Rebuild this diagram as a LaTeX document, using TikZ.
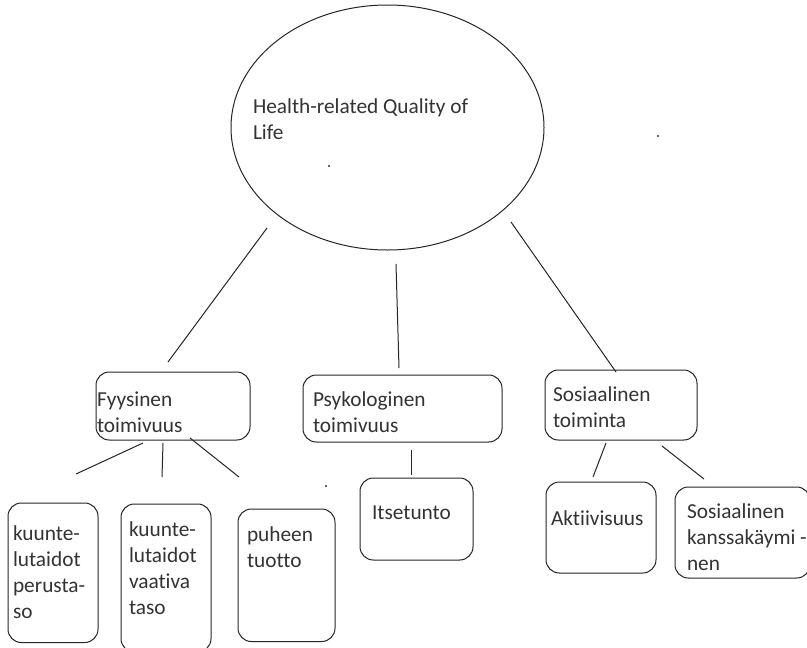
\documentclass[tikz,border=0pt]{standalone}
\usepackage{fontspec}
\setmainfont{Carlito}[Ligatures={NoCommon,NoRare,NoContextual}]
\begin{document}
\begin{tikzpicture}[x=0.75pt,y=-0.75pt,
  every node/.style={inner sep=0pt, outer sep=0pt},
  ln/.style={draw=black!85, line width=0.75pt},
  boxshape/.style={rectangle, rounded corners=10pt, draw=black!85, line width=0.75pt},
  lbl/.style={anchor=north west, align=left, text=black!80,
    font=\fontsize{16}{19.5}\selectfont},
  dotmark/.style={fill=black!60, inner sep=0pt, minimum size=1.2pt}]
\useasboundingbox (0,0) rectangle (807,647);
\fill[white] (0,0) rectangle (807,647);
\newcommand{\lblbox}[4]{% name, x, baseline y, text
  \node[lbl] (#1) at (#2,#3-18.2) {\strut #4};}
% main ellipse
\draw[ln] (387.5,127.5) ellipse [x radius=156.5, y radius=122.5];
\node[inner sep=0pt] (hq) at (387.5,127.5) {};
\lblbox{hqt}{253}{113}{Health-related Quality of\\\strut Life}
% second level boxes
\draw[boxshape] (96,372) rectangle (250,440);
\node (fy) at (173,406) {};
\lblbox{fyt}{97}{406.7}{Fyysinen\\\strut toimivuus}
\draw[boxshape] (303,375) rectangle (502,442);
\node (ps) at (402.5,408.5) {};
\lblbox{pst}{313}{406.7}{Psykologinen\\\strut toimivuus}
\draw[boxshape] (545,370) rectangle (697,440);
\node (so) at (621,405) {};
\lblbox{sot}{553}{401.7}{Sosiaalinen\\\strut toiminta}
% third level boxes
\draw[boxshape] (8,503) rectangle (98,642.5);
\lblbox{k1t}{13}{540}{kuunte-\\\strut lutaidot\\\strut perusta-\\\strut so}
\draw[boxshape] (121,504) rectangle (211,652);
\lblbox{k2t}{129}{536.7}{kuunte-\\\strut lutaidot\\\strut vaativa\\\strut taso}
\draw[boxshape] (238,509) rectangle (335,641.5);
\lblbox{k3t}{247}{541.7}{puheen\\\strut tuotto}
\draw[boxshape] (360,478) rectangle (473,560);
\lblbox{k4t}{372}{519.3}{Itsetunto}
\draw[boxshape] (546,482) rectangle (656,573);
\lblbox{k5t}{551}{525}{Aktiivisuus}
\draw[boxshape] (675,487) rectangle (810,578);
\lblbox{k6t}{687}{518.3}{Sosiaalinen\\\strut kanssakäymi -\\\strut nen}
% connector end points
\coordinate (c1a) at (267,228); \coordinate (c1b) at (168,362);
\coordinate (c2a) at (396,264); \coordinate (c2b) at (399,368);
\coordinate (c3a) at (511,222); \coordinate (c3b) at (616,372);
\coordinate (d1a) at (143,443); \coordinate (d1b) at (76,474);
\coordinate (d2a) at (163,443); \coordinate (d2b) at (162,477);
\coordinate (d3a) at (190,438); \coordinate (d3b) at (239,477);
\coordinate (d4a) at (411,450); \coordinate (d4b) at (411,475);
\coordinate (d5a) at (606,443); \coordinate (d5b) at (593,477);
\coordinate (d6a) at (662,446); \coordinate (d6b) at (704,479);
\draw[ln] (c1a) -- (c1b);
\draw[ln] (c2a) -- (c2b);
\draw[ln] (c3a) -- (c3b);
\draw[ln] (d1a) -- (d1b);
\draw[ln] (d2a) -- (d2b);
\draw[ln] (d3a) -- (d3b);
\draw[ln] (d4a) -- (d4b);
\draw[ln] (d5a) -- (d5b);
\draw[ln] (d6a) -- (d6b);
% stray dots
\node[dotmark] (p1) at (658,136) {};
\node[dotmark] (p2) at (329,166) {};
\node[dotmark] (p3) at (326,486) {};
\end{tikzpicture}
\end{document}
